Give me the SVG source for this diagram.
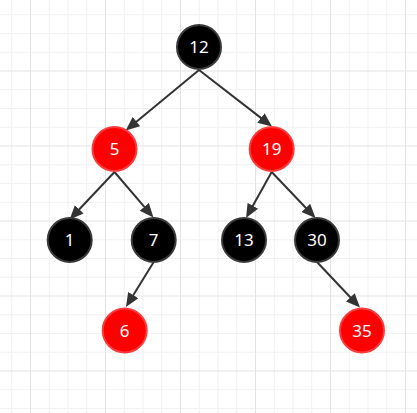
<svg xmlns="http://www.w3.org/2000/svg" width="417" height="413" viewBox="0 0 417 413">
<style>
.minor{stroke:#f1f1f1;stroke-width:1;fill:none}
.major{stroke:#e3e3e3;stroke-width:1;fill:none}
.edge{stroke:#333333;stroke-width:2;fill:none;marker-end:url(#arr)}
.blk{fill:#000000;stroke:#3a3a3a;stroke-width:2}
.red{fill:#ff0000;stroke:#ff3b3b;stroke-width:2}
.lbl{fill:#ffffff;font-family:"Noto Sans","Open Sans","DejaVu Sans",sans-serif;font-size:17px;text-anchor:middle}
</style>
<defs>
<marker id="arr" markerUnits="userSpaceOnUse" markerWidth="15" markerHeight="13" refX="4" refY="6" orient="auto">
<path d="M0,0 L14,6 L0,12 z" fill="#333333"/>
</marker>
</defs>
<rect width="417" height="413" fill="#ffffff"/>
<g id="grid">
<path class="minor" d="M11.75,0V413M49.25,0V413M68,0V413M86.75,0V413M124.25,0V413M143,0V413M161.75,0V413M199.25,0V413M218,0V413M236.75,0V413M274.25,0V413M293,0V413M311.75,0V413M349.25,0V413M368,0V413M386.75,0V413M0,14.75H417M0,33.5H417M0,52.25H417M0,89.75H417M0,108.5H417M0,127.25H417M0,164.75H417M0,183.5H417M0,202.25H417M0,239.75H417M0,258.5H417M0,277.25H417M0,314.75H417M0,333.5H417M0,352.25H417M0,389.75H417M0,408.5H417"/>
<path class="major" d="M30.5,0V413M105.5,0V413M180.5,0V413M255.5,0V413M330.5,0V413M405.5,0V413M0,71H417M0,146H417M0,221H417M0,296H417M0,371H417"/>
</g>
<g id="edges">
<path class="edge" d="M199,70 L133.4,124.2"/>
<path class="edge" d="M199,70 L264.1,120.4"/>
<path class="edge" d="M114.5,172 L76.5,212.2"/>
<path class="edge" d="M114.5,172 L146.9,209.9"/>
<path class="edge" d="M271.7,172 L250.9,209.3"/>
<path class="edge" d="M271.7,172 L308.6,210.8"/>
<path class="edge" d="M153.7,262 L131.2,298.5"/>
<path class="edge" d="M317,262 L353.1,300.2"/>
</g>
<g id="n12"><circle class="blk" cx="199" cy="47" r="22"/><text class="lbl" x="199" y="53">12</text></g>
<g id="n5"><circle class="red" cx="114.5" cy="149" r="22"/><text class="lbl" x="114.5" y="155">5</text></g>
<g id="n19"><circle class="red" cx="271.7" cy="149" r="22"/><text class="lbl" x="271.7" y="155">19</text></g>
<g id="n1"><circle class="blk" cx="69.7" cy="240" r="22"/><text class="lbl" x="69.7" y="246">1</text></g>
<g id="n7"><circle class="blk" cx="153.7" cy="240" r="22"/><text class="lbl" x="153.7" y="246">7</text></g>
<g id="n13"><circle class="blk" cx="244" cy="240" r="22"/><text class="lbl" x="244" y="246">13</text></g>
<g id="n30"><circle class="blk" cx="317" cy="240" r="22"/><text class="lbl" x="317" y="246">30</text></g>
<g id="n6"><circle class="red" cx="124.7" cy="330.5" r="22"/><text class="lbl" x="124.7" y="336.5">6</text></g>
<g id="n35"><circle class="red" cx="362" cy="330.5" r="22"/><text class="lbl" x="362" y="336.5">35</text></g>
</svg>
